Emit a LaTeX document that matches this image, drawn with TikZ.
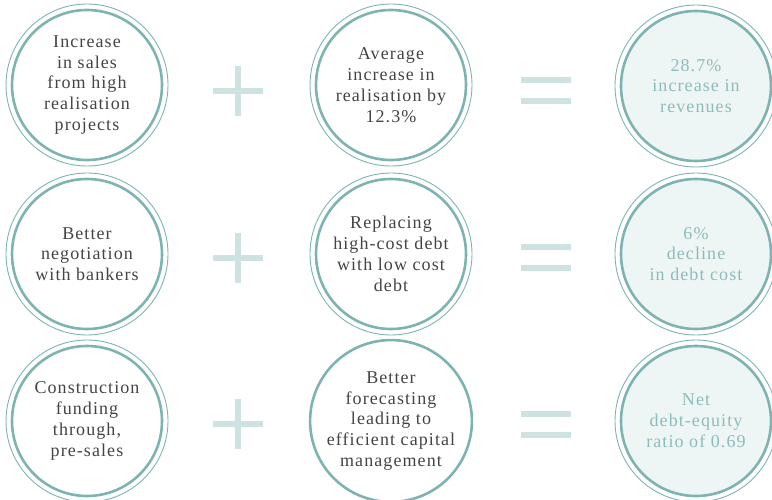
\documentclass[tikz,border=0pt]{standalone}
\usepackage{fontspec}
\setmainfont{Liberation Serif}[LetterSpace=6]
\definecolor{ringteal}{HTML}{7DB4B1}
\definecolor{signteal}{HTML}{CDE2E1}
\definecolor{resultfill}{HTML}{EEF5F5}
\definecolor{resulttext}{HTML}{8CBDBA}
\definecolor{bodytext}{HTML}{444444}
\tikzset{
  factor/.style={circle, draw=ringteal, line width=2.6pt, fill=white,
    minimum size=150pt, inner sep=0pt, align=center, text=bodytext,
    font=\fontsize{18}{20.8}\selectfont},
  outcome/.style={factor, fill=resultfill, text=resulttext},
  halo/.style={draw=ringteal, line width=0.9pt},
  signbar/.style={fill=signteal, draw=none}
}
\begin{document}
\begin{tikzpicture}[x=1pt,y=1pt]
  \useasboundingbox (0,0) rectangle (772,499);
  % outer thin rings
  \foreach \cx/\cy in {87/414,391/414,696/413,87/245,391/245,696/245,87/78,391/78,696/78}
    \draw[halo] (\cx,\cy) circle (81);
  % row 1
  \node[factor] (a1) at (87,414) {Increase\\in sales\\from high\\realisation\\projects};
  \node[factor] (b1) at (391,414) {Average\\increase in\\realisation by\\12.3\%};
  \node[outcome] (c1) at (696,413) {28.7\%\\increase in\\revenues};
  % row 2
  \node[factor] (a2) at (87,245) {Better\\negotiation\\with bankers};
  \node[factor] (b2) at (391,245) {Replacing\\high-cost debt\\with low cost\\debt};
  \node[outcome] (c2) at (696,245) {6\%\\decline\\in debt cost};
  % row 3
  \node[factor] (a3) at (87,78) {Construction\\funding\\through,\\pre-sales};
  \node[factor] (b3) at (391,78) {Better\\forecasting\\leading to\\efficient capital\\management};
  \node[outcome] (c3) at (696,78) {Net\\debt-equity\\ratio of 0.69};
  % plus signs
  \foreach \py in {408,241,75} {
    \fill[signbar] (213,\py-3) rectangle (263,\py+3);
    \fill[signbar] (235,\py-25) rectangle (241,\py+25);
  }
  % equals signs
  \foreach \py in {408.5,241.5,75} {
    \fill[signbar] (521,\py+7.5) rectangle (571,\py+13.5);
    \fill[signbar] (521,\py-13.5) rectangle (571,\py-7.5);
  }
\end{tikzpicture}
\end{document}
